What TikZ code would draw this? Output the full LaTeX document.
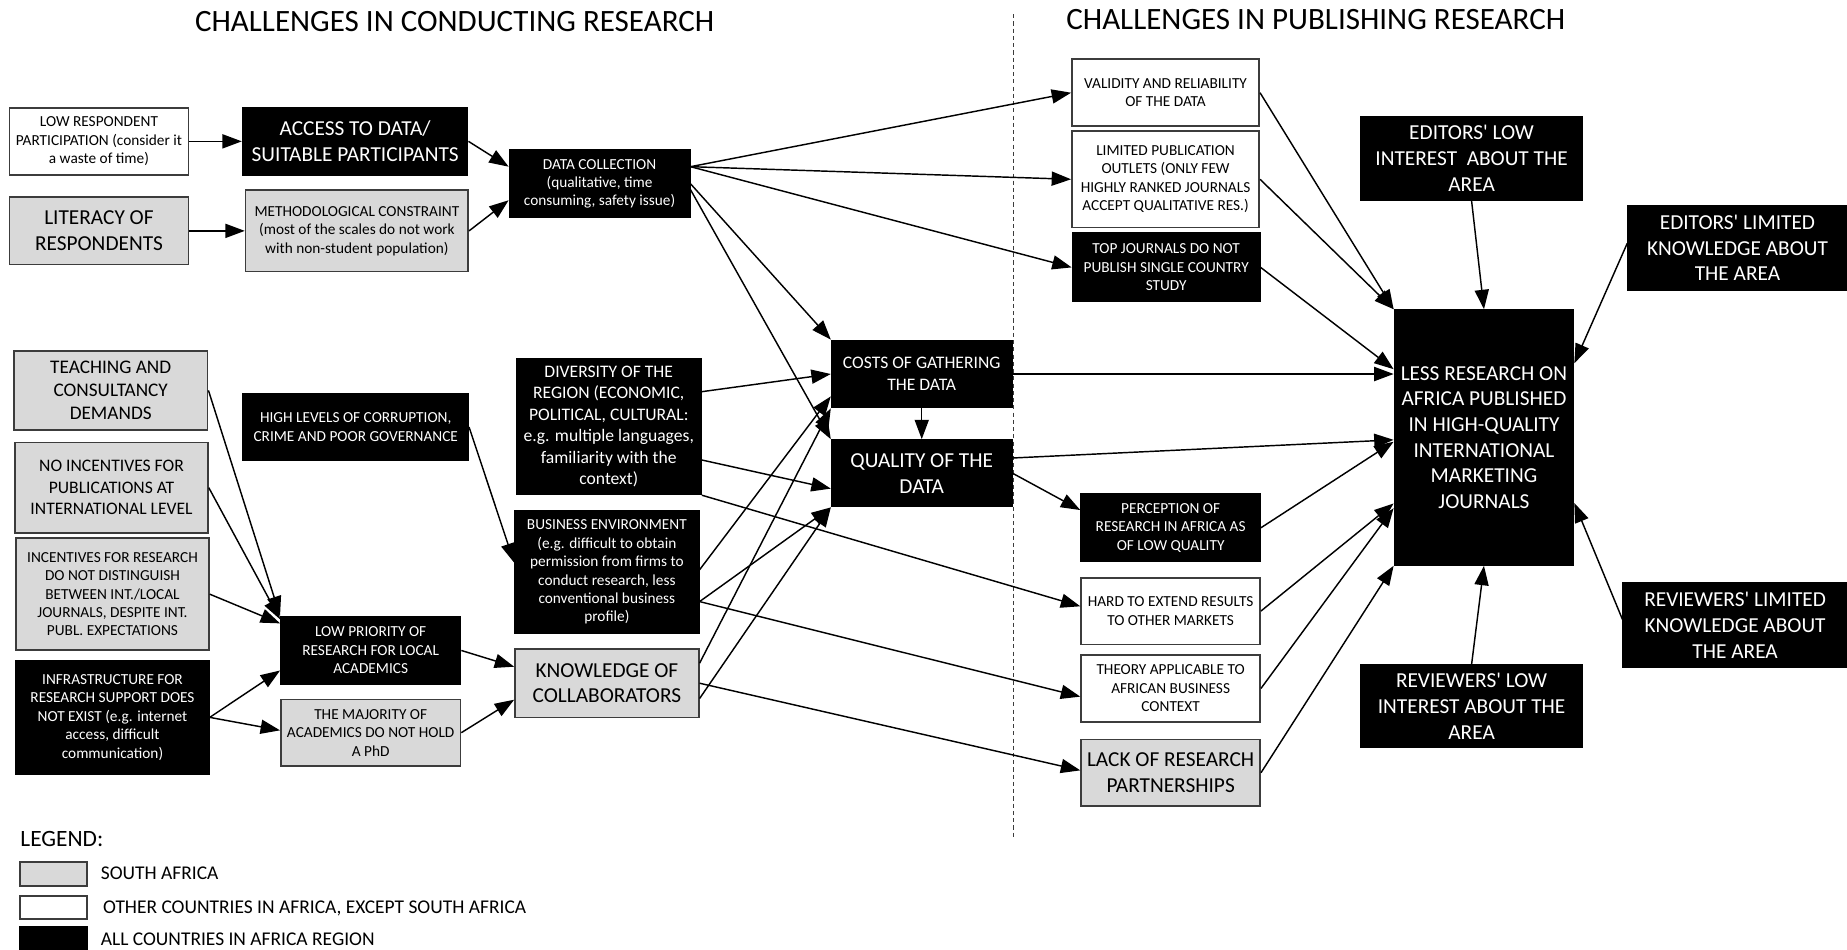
\documentclass[tikz,border=0pt]{standalone}
\usepackage{fontspec}
\setmainfont{Carlito}
\usepackage{tikz}
\usetikzlibrary{arrows.meta, calc}
\usepackage{xcolor}
\definecolor{sagray}{RGB}{217, 217, 217}
\definecolor{edgegray}{RGB}{60, 60, 60}

\begin{document}
\begin{tikzpicture}[
  x=0.02cm, y=-0.02cm,
  box/.style={rectangle, draw=edgegray, line width=0.8pt, align=center, inner sep=1pt},
  southaf/.style={box, fill=sagray},
  otheraf/.style={box, fill=white},
  allaf/.style={box, draw=black, fill=black, text=white},
  dims/.style 2 args={minimum width=#1*0.02cm, minimum height=#2*0.02cm},
  txts/.style={font=\fontsize{7.4}{8.9}\selectfont},
  txtm/.style={font=\fontsize{8.5}{10.4}\selectfont},
  txtl/.style={font=\fontsize{10.3}{12.4}\selectfont},
  txtkey/.style={font=\fontsize{9.4}{11}\selectfont, anchor=west, inner sep=0pt},
  link/.style={-{Triangle[length=3.3mm, width=2.4mm]}, line width=0.7pt},
]
  \useasboundingbox (0,0) rectangle (1568,806);

  % titles and divider
  \node[font=\fontsize{15}{18}\selectfont] (titleconduct) at (386,18) {CHALLENGES IN CONDUCTING RESEARCH};
  \node[font=\fontsize{15}{18}\selectfont] (titlepublish) at (1117,17) {CHALLENGES IN PUBLISHING RESEARCH};
  \draw[edgegray, line width=0.5pt, dash pattern=on 2pt off 1.5pt] (860.8,12) -- (860.8,712);

  % conducting research: top
  \node[otheraf, txts, dims={152}{57}] (lowresp) at (84,120) {
    LOW RESPONDENT\\
    PARTICIPATION (consider it\\
    a waste of time)
  };
  \node[southaf, txtl, dims={152}{57}] (literacy) at (84,196) {
    LITERACY OF\\
    RESPONDENTS
  };
  \node[allaf, txtl, dims={191}{57}] (access) at (301.5,120) {
    ACCESS TO DATA/\\
    SUITABLE PARTICIPANTS
  };
  \node[southaf, txts, dims={189}{69}] (method) at (303,196) {
    METHODOLOGICAL CONSTRAINT\\
    (most of the scales do not work\\
    with non-student population)
  };
  \node[allaf, txts, dims={153}{57}] (datacoll) at (509,156) {
    DATA COLLECTION\\
    (qualitative, time\\
    consuming, safety issue)
  };

  % conducting research: lower part
  \node[southaf, font=\fontsize{9.3}{11.3}\selectfont, dims={164.5}{67}] (teaching) at (94,331.4) {
    TEACHING AND\\
    CONSULTANCY\\
    DEMANDS
  };
  \node[southaf, txtm, dims={163.7}{77}] (noincent) at (94.7,414) {
    NO INCENTIVES FOR\\
    PUBLICATIONS AT\\
    INTERNATIONAL LEVEL
  };
  \node[southaf, txts, dims={163.7}{95}] (incent) at (95.5,504.4) {
    INCENTIVES FOR RESEARCH\\
    DO NOT DISTINGUISH\\
    BETWEEN INT./LOCAL\\
    JOURNALS, DESPITE INT.\\
    PUBL. EXPECTATIONS
  };
  \node[allaf, txts, dims={163.7}{96}] (infra) at (95.5,609) {
    INFRASTRUCTURE FOR\\
    RESEARCH SUPPORT DOES\\
    NOT EXIST (e.g. internet\\
    access, difficult\\
    communication)
  };
  \node[allaf, txts, dims={191}{57}] (corrupt) at (302,362.5) {
    HIGH LEVELS OF CORRUPTION,\\
    CRIME AND POOR GOVERNANCE
  };
  \node[allaf, txts, dims={152.5}{57.5}] (lowprio) at (314.7,552.2) {
    LOW PRIORITY OF\\
    RESEARCH FOR LOCAL\\
    ACADEMICS
  };
  \node[southaf, txts, dims={152.5}{56.6}] (phd) at (314.7,622) {
    THE MAJORITY OF\\
    ACADEMICS DO NOT HOLD\\
    A PhD
  };
  \node[allaf, txtm, dims={156.7}{115.4}] (diversity) at (516.8,362) {
    DIVERSITY OF THE\\
    REGION (ECONOMIC,\\
    POLITICAL, CULTURAL:\\
    e.g. multiple languages,\\
    familiarity with the\\
    context)
  };
  \node[allaf, txts, dims={156}{104}] (business) at (515.2,485.7) {
    BUSINESS ENVIRONMENT\\
    (e.g. difficult to obtain\\
    permission from firms to\\
    conduct research, less\\
    conventional business\\
    profile)
  };
  \node[southaf, txtl, dims={156}{58}] (knowledge) at (515.2,580) {
    KNOWLEDGE OF\\
    COLLABORATORS
  };
  \node[allaf, txtm, dims={153}{57}] (costs) at (782.5,317.5) {
    COSTS OF GATHERING\\
    THE DATA
  };
  \node[allaf, txtl, dims={153}{56.5}] (quality) at (782.5,401.8) {
    QUALITY OF THE\\
    DATA
  };

  % publishing research
  \node[otheraf, txts, dims={159}{57}] (validity) at (989.5,78.7) {
    VALIDITY AND RELIABILITY\\
    OF THE DATA
  };
  \node[otheraf, txts, dims={159}{82}] (outlets) at (989.5,152.2) {
    LIMITED PUBLICATION\\
    OUTLETS (ONLY FEW\\
    HIGHLY RANKED JOURNALS\\
    ACCEPT QUALITATIVE RES.)
  };
  \node[allaf, txts, dims={159}{58}] (topjourn) at (990,227) {
    TOP JOURNALS DO NOT\\
    PUBLISH SINGLE COUNTRY\\
    STUDY
  };
  \node[allaf, txts, dims={152}{57.4}] (perception) at (993.8,448) {
    PERCEPTION OF\\
    RESEARCH IN AFRICA AS\\
    OF LOW QUALITY
  };
  \node[otheraf, txts, dims={152}{56.6}] (extend) at (993.8,518.7) {
    HARD TO EXTEND RESULTS\\
    TO OTHER MARKETS
  };
  \node[otheraf, txts, dims={152}{56.7}] (theory) at (993.8,584.4) {
    THEORY APPLICABLE TO\\
    AFRICAN BUSINESS\\
    CONTEXT
  };
  \node[southaf, txtl, dims={152}{56.6}] (partner) at (993.8,656) {
    LACK OF RESEARCH\\
    PARTNERSHIPS
  };
  \node[allaf, txtl, dims={152}{216.4}] (lessres) at (1259.8,371.4) {
    LESS RESEARCH ON\\
    AFRICA PUBLISHED\\
    IN HIGH-QUALITY\\
    INTERNATIONAL\\
    MARKETING\\
    JOURNALS
  };
  \node[allaf, txtl, dims={188}{71}] (edlow) at (1249.3,134.4) {
    EDITORS\textquotesingle{} LOW\\
    INTEREST~ ABOUT THE\\
    AREA
  };
  \node[allaf, txtl, dims={185.7}{71.3}] (edlimit) at (1475,210.5) {
    EDITORS\textquotesingle{} LIMITED\\
    KNOWLEDGE ABOUT\\
    THE AREA
  };
  \node[allaf, txtl, dims={190}{72}] (revlimit) at (1473,530.7) {
    REVIEWERS\textquotesingle{} LIMITED\\
    KNOWLEDGE ABOUT\\
    THE AREA
  };
  \node[allaf, txtl, dims={188}{70}] (revlow) at (1249.3,599.6) {
    REVIEWERS\textquotesingle{} LOW\\
    INTEREST ABOUT THE\\
    AREA
  };

  % legend
  \node[font=\fontsize{11.3}{13}\selectfont, anchor=west, inner sep=0pt] (legend) at (17,712) {LEGEND:};
  \node[southaf, dims={57}{20.5}] (keysa) at (45.5,741.8) {};
  \node[otheraf, dims={57}{19.6}] (keyother) at (45.5,770.4) {};
  \node[allaf, dims={57}{20}] (keyall) at (45.5,796.5) {};
  \node[txtkey] (keysatext) at (85.3,741.3) {SOUTH AFRICA};
  \node[txtkey] (keyothertext) at (87.2,771) {OTHER COUNTRIES IN AFRICA, EXCEPT SOUTH AFRICA};
  \node[txtkey] (keyalltext) at (85.3,797.5) {ALL COUNTRIES IN AFRICA REGION};

  % arrows, conducting
  \draw[link] (lowresp.east) -- (access.west);
  \draw[link] (literacy.east) -- (method.west);
  \draw[link] (access.east) -- ($(datacoll.west)+(0,-14.5)$);
  \draw[link] (method.east) -- ($(datacoll.west)+(0,14)$);
  \draw[link] ($(datacoll.east)+(0,-14.5)$) -- (validity.west);
  \draw[link] ($(datacoll.east)+(0,-14.5)$) -- (outlets.west);
  \draw[link] ($(datacoll.east)+(0,-14.5)$) -- (topjourn.west);
  \draw[link] (datacoll.east) -- (costs.north west);
  \draw[link] ($(datacoll.east)+(0,5)$) -- (quality.north west);
  \draw[link] (teaching.east) -- (lowprio.north west);
  \draw[link] (noincent.east) -- ($(lowprio.north west)+(0,3)$);
  \draw[link] (incent.east) -- ($(lowprio.west)+(0,-23)$);
  \draw[link] (infra.east) -- ($(lowprio.west)+(0,17)$);
  \draw[link] (infra.east) -- ($(phd.west)+(0,-2)$);
  \draw[link] (corrupt.east) -- ($(business.west)+(0,-8)$);
  \draw[link] (lowprio.east) -- ($(knowledge.west)+(0,-14)$);
  \draw[link] (phd.east) -- ($(knowledge.west)+(0,14)$);
  \draw[link] ($(diversity.east)+(0,-29.5)$) -- (costs.west);
  \draw[link] ($(diversity.east)+(0,28.5)$) -- ($(quality.west)+(0,13)$);
  \draw[link] (diversity.south east) -- ($(extend.west)+(0,-4)$);
  \draw[link] ($(business.east)+(0,-2)$) -- ($(costs.west)+(0,19)$);
  \draw[link] ($(business.east)+(0,25)$) -- (quality.south west);
  \draw[link] ($(business.east)+(0,25)$) -- ($(theory.west)+(0,7)$);
  \draw[link] ($(knowledge.east)+(0,-17)$) -- (costs.south west);
  \draw[link] ($(knowledge.east)+(0,13)$) -- (quality.south west);
  \draw[link] (knowledge.east) -- ($(partner.west)+(0,-2)$);
  \draw[link] (costs.south) -- (quality.north);

  % arrows, publishing
  \draw[link] (costs.east) -- (costs.east -| lessres.west);
  \draw[link] ($(quality.east)+(0,-13)$) -- ($(lessres.west)+(0,2)$);
  \draw[link] (quality.east) -- ($(perception.west)+(0,-15)$);
  \draw[link] (validity.east) -- (lessres.north west);
  \draw[link] (outlets.east) -- (lessres.north west);
  \draw[link] (topjourn.east) -- ($(lessres.west)+(0,-58)$);
  \draw[link] (perception.east) -- ($(lessres.west)+(0,3.6)$);
  \draw[link] (extend.east) -- ($(lessres.west)+(0,56)$);
  \draw[link] (theory.east) -- ($(lessres.west)+(0,60)$);
  \draw[link] (partner.east) -- (lessres.south west);
  \draw[link] (edlow.south) -- (lessres.north);
  \draw[link] ($(edlimit.west)+(0,-4)$) -- ($(lessres.east)+(0,-63)$);
  \draw[link] ($(revlimit.west)+(0,-5)$) -- ($(lessres.east)+(0,55.6)$);
  \draw[link] (revlow.north) -- (lessres.south);
\end{tikzpicture}
\end{document}
